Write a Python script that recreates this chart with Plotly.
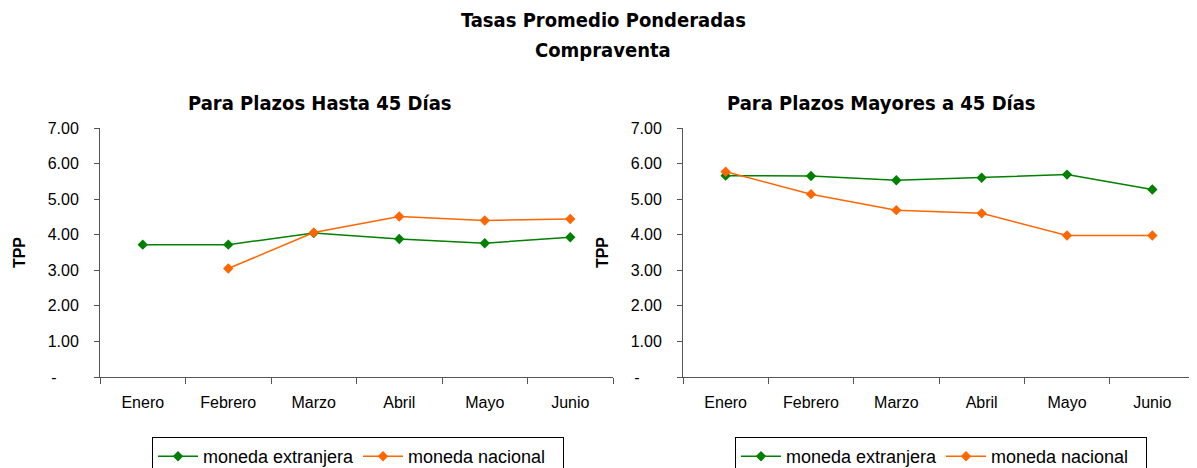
import plotly.graph_objects as go

meses = ["Enero", "Febrero", "Marzo", "Abril", "Mayo", "Junio"]
hasta45_extranjera = [3.72, 3.72, 4.05, 3.88, 3.76, 3.93]
hasta45_nacional = [None, 3.05, 4.06, 4.51, 4.40, 4.44]
mayores45_extranjera = [5.66, 5.65, 5.53, 5.60, 5.69, 5.27]
mayores45_nacional = [5.77, 5.14, 4.69, 4.60, 3.98, 3.98]
ytick_vals = [0, 1, 2, 3, 4, 5, 6, 7]
ytick_text = ["-" + "\u00a0" * 5, "1.00", "2.00", "3.00", "4.00", "5.00", "6.00", "7.00"]

GREEN = "#008000"
ORANGE = "#FF6600"
W, H = 1197, 468
OFF = 8  # page body margin offset


def px_x(v):
    return (v - OFF) / W


def px_y(v):
    return 1 - (v - OFF) / H


fig = go.Figure()


def add(y, name, color, xa, ya, leg):
    fig.add_trace(go.Scatter(
        x=meses, y=y, name=name, mode="lines+markers",
        line=dict(color=color, width=1.5),
        marker=dict(symbol="diamond", size=8, color=color),
        xaxis=xa, yaxis=ya, legend=leg, connectgaps=False,
    ))


add(hasta45_extranjera, "moneda extranjera", GREEN, "x", "y", "legend")
add(hasta45_nacional, "moneda nacional", ORANGE, "x", "y", "legend")
add(mayores45_extranjera, "moneda extranjera", GREEN, "x2", "y2", "legend2")
add(mayores45_nacional, "moneda nacional", ORANGE, "x2", "y2", "legend2")

font_main = "Liberation Sans, Arial, sans-serif"
font_title = "DejaVu Sans Condensed, DejaVu Sans, sans-serif"

ydom = [px_y(377), px_y(128)]
xcommon = dict(type="category", showline=True, linecolor="#555555", linewidth=1,
               ticks="outside", tickson="boundaries", ticklen=6, tickcolor="#555555",
               showgrid=False, zeroline=False, range=[-0.5, 5.5],
               tickfont=dict(family=font_main, size=16, color="black"),
               ticklabelstandoff=11)
ycommon = dict(range=[0, 7], tickvals=ytick_vals, ticktext=ytick_text,
               showline=True, linecolor="#555555", linewidth=1,
               ticks="outside", ticklen=5, tickcolor="#555555",
               showgrid=False, zeroline=False,
               tickfont=dict(family=font_main, size=16, color="black"),
               ticklabelstandoff=12,
               title=dict(text="<b>TPP</b>", font=dict(family=font_main, size=16, color="black"), standoff=18))

legend_common = dict(orientation="h", xanchor="left", yanchor="top",
                     bordercolor="black", borderwidth=1, entrywidth=150, entrywidthmode="pixels",
                     itemwidth=40,
                     font=dict(family=font_main, size=18, color="black"))

fig.update_layout(
    width=W, height=H,
    margin=dict(l=0, r=0, t=0, b=0, autoexpand=False),
    paper_bgcolor="white", plot_bgcolor="white",
    xaxis=dict(domain=[px_x(100), px_x(613)], anchor="y", **xcommon),
    yaxis=dict(domain=ydom, anchor="x", **ycommon),
    xaxis2=dict(domain=[px_x(683), px_x(1195)], anchor="y2", **xcommon),
    yaxis2=dict(domain=ydom, anchor="x2", **ycommon),
    legend=dict(x=px_x(152), y=px_y(437), **legend_common),
    legend2=dict(x=px_x(735), y=px_y(437), **legend_common),
    showlegend=True,
    annotations=[
        dict(text="<b>Tasas Promedio Ponderadas</b>", x=px_x(603), y=px_y(20),
             xref="paper", yref="paper", xanchor="center", yanchor="middle", showarrow=False,
             font=dict(family=font_title, size=20, color="black")),
        dict(text="<b>Compraventa</b>", x=px_x(603), y=px_y(50),
             xref="paper", yref="paper", xanchor="center", yanchor="middle", showarrow=False,
             font=dict(family=font_title, size=20, color="black")),
        dict(text="<b>Para Plazos Hasta 45 Días</b>", x=px_x(320), y=px_y(103),
             xref="paper", yref="paper", xanchor="center", yanchor="middle", showarrow=False,
             font=dict(family=font_title, size=20, color="black")),
        dict(text="<b>Para Plazos Mayores a 45 Días</b>", x=px_x(881), y=px_y(103),
             xref="paper", yref="paper", xanchor="center", yanchor="middle", showarrow=False,
             font=dict(family=font_title, size=20, color="black")),
    ],
)

fig.write_html("out.html")
